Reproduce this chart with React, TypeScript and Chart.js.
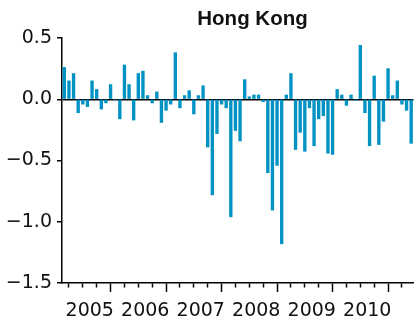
import React, { useEffect, useRef } from "react";
import { Chart, registerables } from "chart.js";

Chart.register(...registerables);

const title = "Hong Kong";
const startYear = 2005;
const yearLabels = ["2005", "2006", "2007", "2008", "2009", "2010"];
const yTicks = [0.5, 0.0, -0.5, -1.0, -1.5];
// monthly values, Jan 2005 .. Apr 2011
const values = [
  0.26, 0.15, 0.21, -0.11, -0.04, -0.06, 0.15, 0.08, -0.08, -0.03, 0.12, 0.0,
  -0.16, 0.28, 0.12, -0.17, 0.21, 0.23, 0.03, -0.03, 0.06, -0.19, -0.09, -0.04,
  0.38, -0.07, 0.03, 0.07, -0.12, 0.03, 0.11, -0.39, -0.78, -0.28, -0.04, -0.07,
  -0.96, -0.255, -0.34, 0.16, 0.02, 0.035, 0.035, -0.02, -0.6, -0.905, -0.54, -1.18,
  0.035, 0.21, -0.41, -0.27, -0.425, -0.07, -0.38, -0.16, -0.135, -0.44, -0.45, 0.08,
  0.035, -0.05, 0.035, -0.01, 0.44, -0.11, -0.38, 0.19, -0.37, -0.18, 0.25, 0.03,
  0.15, -0.04, -0.09, -0.36,
];

const BAR_COLOR = "#0092c2";

export default function App() {
  const ref = useRef<HTMLCanvasElement | null>(null);
  useEffect(() => {
    if (!ref.current) return;
    const titlePlugin = {
      id: "customTitle",
      afterDraw(chart: any) {
        const c = chart.ctx;
        c.save();
        c.font = "bold 20.5px 'Liberation Sans', Arial, sans-serif";
        c.fillStyle = "#111";
        c.textAlign = "center";
        c.textBaseline = "alphabetic";
        c.fillText(title, 252.5, 25);
        c.restore();
      },
    };
    const chart = new Chart(ref.current, {
      type: "bar",
      data: {
        datasets: [
          {
            data: values.map((v, i) => ({ x: i + 0.5, y: v })),
            backgroundColor: BAR_COLOR,
            borderWidth: 0,
            barThickness: 2.7,
            clip: false as any,
          } as any,
        ],
      },
      options: {
        responsive: false,
        animation: false,
        devicePixelRatio: 1,
        layout: { padding: { top: 38, right: 3.5, left: 0, bottom: 0 } },
        plugins: {
          legend: { display: false },
          tooltip: { enabled: false },
          title: { display: false },
        },
        scales: {
          x: {
            type: "linear",
            min: 0,
            max: values.length,
            offset: false,
            afterFit: (s: any) => {
              s.height = 44;
            },
            afterBuildTicks: (s: any) => {
              const t = [];
              for (let m = 0; m < values.length; m += 3) t.push({ value: m });
              s.ticks = t;
            },
            border: { display: true, color: "#000", width: 1.5 },
            grid: {
              drawOnChartArea: false,
              drawTicks: true,
              tickLength: 9,
              tickColor: "#000",
              tickWidth: 1.5,
              tickBorderDash: (ctx: any) =>
                ctx.tick && ctx.tick.value % 12 === 0 ? [] : [4, 30],
            } as any,
            ticks: {
              autoSkip: false,
              maxRotation: 0,
              minRotation: 0,
              padding: 8,
              color: "#111",
              font: { family: "'DejaVu Sans'", size: 19 },
              callback: (v: any) => {
                const m = Number(v);
                if (m % 12 === 6) {
                  const idx = (m - 6) / 12;
                  return yearLabels[idx] ?? String(startYear + idx);
                }
                return "";
              },
            },
          },
          y: {
            type: "linear",
            min: -1.5,
            max: 0.5,
            afterFit: (s: any) => {
              s.width = 62;
            },
            afterBuildTicks: (s: any) => {
              s.ticks = yTicks.map((v) => ({ value: v }));
            },
            border: { display: true, color: "#000", width: 1.5 },
            grid: {
              drawOnChartArea: true,
              drawTicks: true,
              tickLength: 5,
              tickColor: "#000",
              tickWidth: 1.5,
              lineWidth: 1.5,
              color: (ctx: any) =>
                ctx.tick && ctx.tick.value === 0 ? "#000" : "rgba(0,0,0,0)",
            },
            ticks: {
              padding: 5,
              color: "#111",
              font: { family: "'DejaVu Sans'", size: 19 },
              callback: (v: any) => {
                const n = Number(v);
                const s = Math.abs(n).toFixed(1);
                return n < 0 ? "\u2212" + s : s;
              },
            },
          },
        },
      },
      plugins: [titlePlugin],
    });
    return () => chart.destroy();
  }, []);
  return (
    <div style={{ position: "fixed", left: 0, top: 0, width: 417, height: 327, background: "#fff" }}>
      <canvas ref={ref} width={417} height={327} style={{ width: 417, height: 327, display: "block" }} />
    </div>
  );
}
